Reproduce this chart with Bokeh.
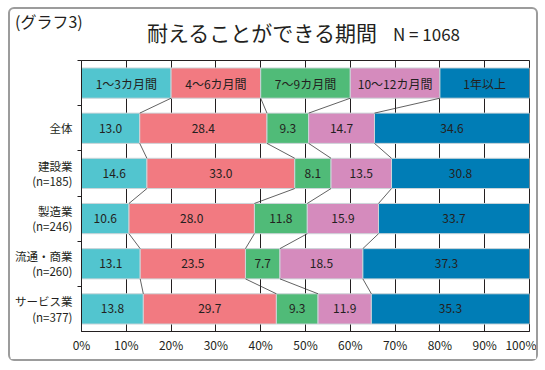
import numpy as np
from bokeh.plotting import figure
from bokeh.layouts import column
from bokeh.models import Range1d, FixedTicker, ColumnDataSource, LabelSet, Div
from bokeh.core.properties import value
from bokeh.embed import file_html
from bokeh.resources import INLINE

# ---------------- data ----------------
periods = ["1～3カ月間", "4～6カ月間", "7～9カ月間", "10～12カ月間", "1年以上"]
legend_share = [20, 20, 20, 20, 20]
groups = ["全体", "建設業\n(n=185)", "製造業\n(n=246)", "流通・商業\n(n=260)", "サービス業\n(n=377)"]
m1_3 = [13.0, 14.6, 10.6, 13.1, 13.8]
m4_6 = [28.4, 33.0, 28.0, 23.5, 29.7]
m7_9 = [9.3, 8.1, 11.8, 7.7, 9.3]
m10_12 = [14.7, 13.5, 15.9, 18.5, 11.9]
y1_plus = [34.6, 30.8, 33.7, 37.3, 35.3]
x_ticks = [0, 10, 20, 30, 40, 50, 60, 70, 80, 90, 100]
x_tick_labels = ["0%", "10%", "20%", "30%", "40%", "50%", "60%", "70%", "80%", "90%", "100%"]
title_main = "耐えることができる期間"
title_n = "N = 1068"
title_tag = "(グラフ3)"

colors = ["#52c5cf", "#f27a81", "#50bb78", "#d58bbd", "#007db6"]
TXT = "#231f20"
FONT = "Noto Sans CJK JP"

series = [m1_3, m4_6, m7_9, m10_12, y1_plus]
vals = np.array(series, dtype=float).T          # rows = groups
legend_row = np.array(legend_share, dtype=float)
all_rows = np.vstack([legend_row, vals])        # row 0 = legend bar
ypos = np.arange(len(all_rows)) + 0.5
H = 0.67

p = figure(width=526, height=300, x_range=Range1d(0, 100), y_range=Range1d(6, 0),
           output_backend="svg", toolbar_location=None,
           min_border_left=71, min_border_right=7, min_border_top=1, min_border_bottom=28)
p.margin = (0, 0, 0, 0)
p.background_fill_color = "white"
p.border_fill_color = "white"
p.outline_line_color = TXT
p.outline_line_width = 1

# grid
p.xgrid.ticker = FixedTicker(ticks=x_ticks)
p.xgrid.grid_line_color = TXT
p.xgrid.grid_line_width = 1
p.xgrid.grid_line_alpha = 1
p.ygrid.grid_line_color = None

# x axis
p.xaxis.ticker = FixedTicker(ticks=x_ticks)
p.xaxis.major_label_overrides = {t: l for t, l in zip(x_ticks, x_tick_labels)}
p.xaxis.major_tick_out = 0
p.xaxis.major_tick_in = 0
p.xaxis.minor_tick_out = 0
p.xaxis.axis_line_color = TXT
p.xaxis.major_label_text_font = FONT
p.xaxis.major_label_text_font_size = "12px"
p.xaxis.major_label_text_color = TXT
p.xaxis.major_label_standoff = 4

# y axis
p.yaxis.ticker = FixedTicker(ticks=list(ypos[1:]), minor_ticks=[0, 1, 2, 3, 4, 5])
p.yaxis.major_label_overrides = {float(y): g for y, g in zip(ypos[1:], groups)}
p.yaxis.major_tick_out = 0
p.yaxis.major_tick_in = 0
p.yaxis.minor_tick_out = 4
p.yaxis.minor_tick_in = 0
p.yaxis.minor_tick_line_color = TXT
p.yaxis.axis_line_color = TXT
p.yaxis.major_label_text_font = FONT
p.yaxis.major_label_text_font_size = "11.5px"
p.yaxis.major_label_text_color = TXT
p.yaxis.major_label_text_align = "right"
p.yaxis.major_label_text_line_height = 0.95
p.yaxis.major_label_standoff = 5

# stacked bars
cum = np.cumsum(all_rows, axis=1)
left = cum - all_rows
for j in range(all_rows.shape[1]):
    src = ColumnDataSource(dict(y=ypos, left=left[:, j], right=cum[:, j]))
    p.hbar(y="y", left="left", right="right", height=H, source=src,
           fill_color=colors[j], line_color="#cdd5d9", line_width=1)

# connector lines between adjacent bars
x0, y0, x1, y1 = [], [], [], []
for i in range(len(all_rows) - 1):
    for j in range(all_rows.shape[1] - 1):
        x0.append(cum[i, j]); y0.append(ypos[i] + H / 2)
        x1.append(cum[i + 1, j]); y1.append(ypos[i + 1] - H / 2)
p.segment(x0=x0, y0=y0, x1=x1, y1=y1, line_color="#3a3a3a", line_width=0.8)

# value labels + legend-bar labels
lx, ly, lt = [], [], []
for i in range(1, len(all_rows)):
    for j in range(all_rows.shape[1]):
        lx.append((left[i, j] + cum[i, j]) / 2); ly.append(ypos[i]); lt.append(f"{all_rows[i, j]:.1f}")
for j in range(all_rows.shape[1]):
    lx.append((left[0, j] + cum[0, j]) / 2); ly.append(ypos[0]); lt.append(periods[j])
lab_src = ColumnDataSource(dict(x=lx, y=ly, t=lt))
p.add_layout(LabelSet(x="x", y="y", text="t", source=lab_src, text_align="center",
                      text_baseline="middle", text_font=value(FONT), text_font_size=value("12px"),
                      text_color=value(TXT)))

# titles (HTML header)
html = (
    f'<div style="position:relative;width:526px;height:50px;font-family:\'{FONT}\';color:{TXT};">'
    f'<span style="position:absolute;left:5px;top:4px;font-size:16px;line-height:1;white-space:nowrap;">{title_tag}</span>'
    f'<span style="position:absolute;left:137px;top:13px;line-height:1;white-space:nowrap;">'
    f'<span style="font-size:21px;">{title_main}</span>'
    f'<span style="font-size:17px;margin-left:16px;">{title_n}</span></span>'
    '</div>'
)
header = Div(text=html, width=526, height=50, margin=(0, 0, 0, 0))

layout = column(header, p, spacing=0,
                styles={"border": "2px solid #9c9c9c", "border-radius": "6px",
                        "background-color": "white", "margin-left": "8px", "margin-top": "7px"})

open("out.html", "w").write(file_html(layout, INLINE))
